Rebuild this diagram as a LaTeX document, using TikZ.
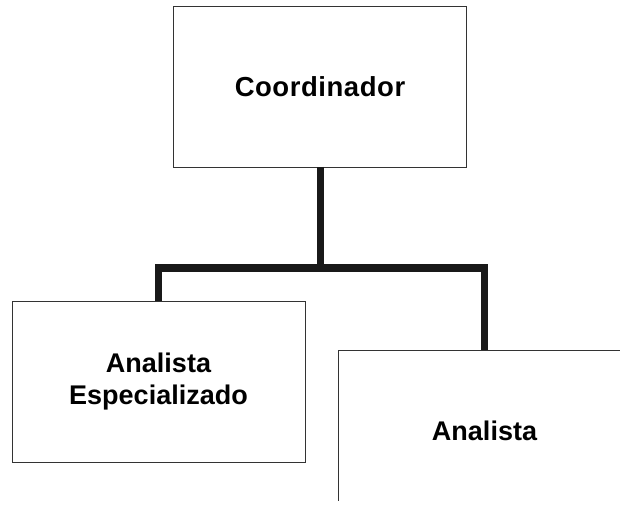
\documentclass[tikz,border=0pt]{standalone}
\usepackage{fontspec}
\setmainfont{Liberation Sans}
\newfontfamily\spacedfont{Liberation Sans}[LetterSpace=2]
\begin{document}
\begin{tikzpicture}[x=1pt,y=-1pt,
  orgbox/.style={draw=black!80,line width=0.9pt,fill=white,minimum width=293pt,minimum height=161pt,inner sep=0pt,outer sep=0pt,align=center,font=\fontsize{27}{32.5}\selectfont\bfseries},
  topbox/.style={orgbox,font=\spacedfont\fontsize{27.5}{32.5}\selectfont\bfseries},
  conn/.style={line width=7pt,draw=black!90,line join=miter}]
\useasboundingbox (0,0) rectangle (620,510);
\clip (0,0) rectangle (620,500);
\coordinate (mid) at (320,268);
\node[topbox] (top) at (320,86.5) {Coordinador};
\node[orgbox] (left) at (158.5,381.5) {Analista\\Especializado};
\node[orgbox] (right) at (484.5,430.5) {Analista};
\draw[conn] (top.south) -- (top.south |- mid);
\draw[conn] (left.north) |- (mid) -| (right.north);
\end{tikzpicture}
\end{document}
